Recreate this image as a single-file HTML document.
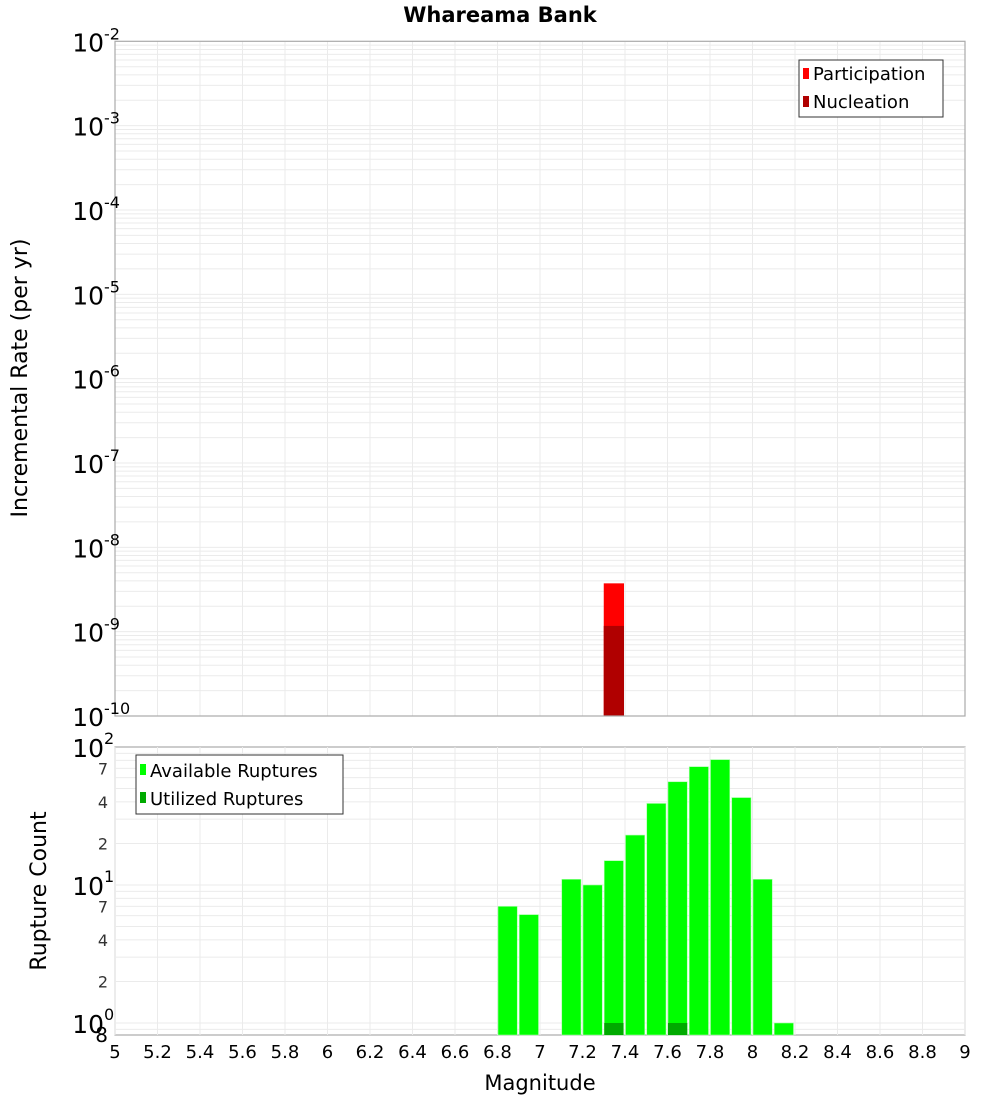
<!DOCTYPE html>
<html><head><meta charset="utf-8"><style>
body{margin:0;background:#fff;}
svg{display:block;font-family:"DejaVu Sans","Liberation Sans",sans-serif;}
</style></head><body>
<svg id="chart" width="1000" height="1100" xmlns="http://www.w3.org/2000/svg">
<text x="500" y="22" text-anchor="middle" font-size="21" font-weight="bold">Whareama Bank</text>
<g id="gtop"></g><g id="gbot"></g>
<text transform="translate(27,378) rotate(-90)" text-anchor="middle" font-size="22">Incremental Rate (per yr)</text>
<text transform="translate(46,891) rotate(-90)" text-anchor="middle" font-size="22">Rupture Count</text>
<text x="540" y="1090" text-anchor="middle" font-size="21">Magnitude</text>
<g>
<rect x="799" y="60" width="144" height="57" fill="#fff" stroke="#333" stroke-width="1"/>
<rect x="803" y="68" width="6" height="11" fill="#ff0000"/>
<text x="813" y="80" font-size="18">Participation</text>
<rect x="803" y="96" width="6" height="11" fill="#b00000"/>
<text x="813" y="108" font-size="18">Nucleation</text>
</g>
<g>
<rect x="136" y="755" width="207" height="59" fill="#fff" stroke="#333" stroke-width="1"/>
<rect x="140" y="764" width="6" height="11" fill="#00ff00"/>
<text x="150" y="777" font-size="18">Available Ruptures</text>
<rect x="140" y="792" width="6" height="11" fill="#00aa00"/>
<text x="150" y="805" font-size="18">Utilized Ruptures</text>
</g>
</svg>
<script>
const magBins=[7.35];
const participation=[3.74e-9];
const nucleation=[1.17e-9];
const countBins=[6.85,6.95,7.15,7.25,7.35,7.45,7.55,7.65,7.75,7.85,7.95,8.05,8.15];
const available=[7,6.1,11,10,15,23,39,56,72,81,43,11,1];
const utilBins=[7.35,7.65];
const utilized=[1,1];
const xTicks=[5,5.2,5.4,5.6,5.8,6,6.2,6.4,6.6,6.8,7,7.2,7.4,7.6,7.8,8,8.2,8.4,8.6,8.8,9];
const topDecades=[-10,-9,-8,-7,-6,-5,-4,-3,-2];
const botDecades=[0,1,2];
const botMinor=[2,4,7];

const NS="http://www.w3.org/2000/svg";
const X0=115,X1=965;
const xs=v=>X0+(v-5)/4*(X1-X0);
const T0=41.3,T1=716;
const yT=v=>T1-(Math.log10(v)+10)/8*(T1-T0);
const B0=747,B1=1035,Bdec=138,B10=1023;
const yB=v=>B10-Math.log10(v)*Bdec;
function el(p,tag,a,txt){const e=document.createElementNS(NS,tag);for(const k in a)e.setAttribute(k,a[k]);if(txt!==undefined)e.textContent=txt;p.appendChild(e);return e;}
const gTop=document.getElementById('gtop'),gBot=document.getElementById('gbot');

for(let d=-10;d<-2;d++)for(let m=1;m<10;m++){const y=yT(m*Math.pow(10,d));
 const l=el(gTop,'line',{x1:X0,x2:X1,y1:y,y2:y,stroke:'#ebebeb','stroke-width':1});
 
 }
xTicks.forEach(t=>{[gTop,gBot].forEach((g,i)=>{const l=el(g,'line',{x1:xs(t),x2:xs(t),y1:i?B0:T0,y2:i?B1:T1,stroke:'#ebebeb','stroke-width':1});
 
 });});
for(let d=-1;d<2;d++)for(let m=1;m<10;m++){const v=m*Math.pow(10,d);const y=yB(v);if(y>B1||y<B0)continue;
 const l=el(gBot,'line',{x1:X0,x2:X1,y1:y,y2:y,stroke:'#ebebeb','stroke-width':1});
 
 }

const bw=0.1;
magBins.forEach((m,i)=>{
 const r=el(gTop,'rect',{x:xs(m-bw/2),y:yT(participation[i]),width:xs(m+bw/2)-xs(m-bw/2)-1,height:T1-yT(participation[i]),fill:'#ff0000'});
 
 
 const n=el(gTop,'rect',{x:xs(m-bw/2),y:yT(nucleation[i]),width:xs(m+bw/2)-xs(m-bw/2)-1,height:T1-yT(nucleation[i]),fill:'#b00000'});
 
 
});
countBins.forEach((m,i)=>{
 const r=el(gBot,'rect',{x:xs(m-bw/2)+0.5,y:yB(available[i]),width:xs(m+bw/2)-xs(m-bw/2)-2,height:B1-yB(available[i]),fill:'#00ff00',stroke:'#a8ffa8','stroke-width':0.6});
 
 
});
utilBins.forEach((m,i)=>{
 const r=el(gBot,'rect',{x:xs(m-bw/2)+0.5,y:yB(utilized[i]),width:xs(m+bw/2)-xs(m-bw/2)-2,height:B1-yB(utilized[i]),fill:'#00aa00'});
 
 
});
[[T0,T1],[B0,B1]].forEach(([a,b])=>{const f=el(gTop,'rect',{x:X0,y:a,width:X1-X0,height:b-a,fill:'none',stroke:'#aaa','stroke-width':1.2});
 
 });

topDecades.forEach(d=>{const y=yT(Math.pow(10,d));
 const t=el(gTop,'text',{x:104,y:y+10,'text-anchor':'end','font-size':25},'10');
 
 
 const s=el(gTop,'text',{x:104,y:y-2,'font-size':16},String(d));
 
 });
botDecades.forEach(d=>{const y=yB(Math.pow(10,d));
 const t=el(gBot,'text',{x:104,y:y+10,'text-anchor':'end','font-size':25},'10');
 
 
 const s=el(gBot,'text',{x:104,y:y-3,'font-size':16},String(d));
 
 });
[0,1].forEach(d=>botMinor.forEach(m=>{const y=yB(m*Math.pow(10,d));
 const t=el(gBot,'text',{x:108,y:y+6,'text-anchor':'end','font-size':16,fill:'#333'},String(m));
 
 }));
const e8=el(gBot,'text',{x:108,y:1042,'text-anchor':'end','font-size':20},'8');


xTicks.forEach(t=>{const tx=el(gBot,'text',{x:xs(t),y:1058,'text-anchor':'middle','font-size':18},String(t));
 
 });
</script>
</body></html>
